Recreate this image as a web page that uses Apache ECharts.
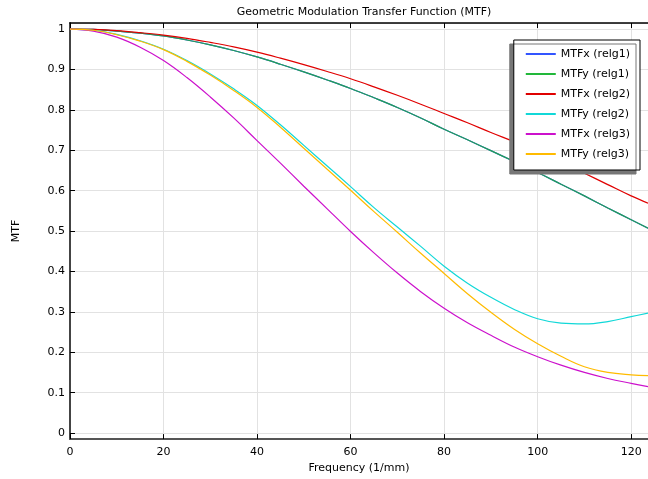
<!DOCTYPE html>
<html>
<head>
<meta charset="utf-8">
<script src="https://cdn.jsdelivr.net/npm/echarts@6/dist/echarts.min.js"></script>
<style>
  html, body { margin: 0; padding: 0; background: #fff; }
  #chart { width: 648px; height: 479px; }
</style>
</head>
<body>
<div id="chart"></div>
<script>
// frequency samples (1/mm)
var freq = [0, 5, 10, 15, 20, 25, 30, 35, 40, 45, 50, 55, 60, 65, 70, 75, 80, 85, 90, 95, 100, 105, 110, 115, 120, 123.6];

var mtfxRelg1 = [1, 0.999, 0.995, 0.990, 0.983, 0.973, 0.961, 0.947, 0.931, 0.913, 0.894, 0.874, 0.853, 0.830, 0.806, 0.780, 0.752, 0.726, 0.699, 0.672, 0.645, 0.616, 0.587, 0.557, 0.528, 0.507];
var mtfyRelg1 = [1, 0.999, 0.995, 0.990, 0.983, 0.973, 0.961, 0.947, 0.931, 0.913, 0.894, 0.874, 0.853, 0.830, 0.806, 0.780, 0.752, 0.726, 0.699, 0.672, 0.645, 0.616, 0.587, 0.557, 0.528, 0.507];
var mtfxRelg2 = [1, 0.999, 0.996, 0.991, 0.985, 0.977, 0.967, 0.956, 0.943, 0.928, 0.912, 0.895, 0.877, 0.857, 0.836, 0.814, 0.791, 0.768, 0.744, 0.721, 0.697, 0.670, 0.643, 0.615, 0.587, 0.569];
var mtfyRelg2 = [1, 0.997, 0.987, 0.971, 0.950, 0.922, 0.889, 0.852, 0.811, 0.763, 0.712, 0.661, 0.610, 0.558, 0.510, 0.462, 0.413, 0.371, 0.336, 0.306, 0.283, 0.272, 0.270, 0.276, 0.288, 0.297];
var mtfxRelg3 = [1, 0.995, 0.980, 0.955, 0.922, 0.880, 0.832, 0.780, 0.724, 0.668, 0.611, 0.555, 0.499, 0.446, 0.396, 0.350, 0.309, 0.273, 0.242, 0.213, 0.189, 0.168, 0.150, 0.135, 0.123, 0.115];
var mtfyRelg3 = [1, 0.997, 0.986, 0.970, 0.949, 0.920, 0.886, 0.848, 0.806, 0.757, 0.705, 0.653, 0.601, 0.548, 0.497, 0.445, 0.395, 0.345, 0.299, 0.257, 0.221, 0.190, 0.164, 0.150, 0.144, 0.142];

var seriesNames = ['MTFx (relg1)', 'MTFy (relg1)', 'MTFx (relg2)', 'MTFy (relg2)', 'MTFx (relg3)', 'MTFy (relg3)'];
var seriesData = [mtfxRelg1, mtfyRelg1, mtfxRelg2, mtfyRelg2, mtfxRelg3, mtfyRelg3];
var colors = ['#3355ff', '#22b83a', '#e00000', '#11d8d8', '#cc11cc', '#ffbb00'];
// the green curve sits on top of the blue one, which tints it in the plot
var lineColors = ['#3355ff', '#22a052', '#e00000', '#11d8d8', '#cc11cc', '#ffbb00'];

var fontFamily = 'DejaVu Sans';

function pairs(ys) {
  var out = [];
  for (var i = 0; i < freq.length; i++) {
    out.push([freq[i], ys[i]]);
  }
  return out;
}

var series = [];
for (var i = 0; i < seriesNames.length; i++) {
  series.push({
    name: seriesNames[i],
    type: 'line',
    xAxisIndex: 0,
    yAxisIndex: 0,
    smooth: 0.4,
    symbol: 'none',
    animation: false,
    color: lineColors[i],
    lineStyle: { width: 1.2, color: lineColors[i] },
    data: pairs(seriesData[i])
  });
}

// legend entries drawn as plain line segments
var legendData = [];
for (var j = 0; j < seriesNames.length; j++) {
  legendData.push({ name: seriesNames[j], icon: 'rect', itemStyle: { color: colors[j] } });
}

var mychart = echarts.init(document.getElementById('chart'));
var option = {
  backgroundColor: '#fff',
  animation: false,
  title: {
    text: 'Geometric Modulation Transfer Function (MTF)',
    left: 359,
    textAlign: 'center',
    top: 2,
    textStyle: { fontFamily: fontFamily, fontSize: 11, fontWeight: 'normal', color: '#000' }
  },
  legend: {
    orient: 'vertical',
    right: 8,
    top: 40,
    data: legendData,
    itemWidth: 30,
    itemHeight: 2,
    itemGap: 6,
    padding: [7, 10, 9, 12],
    borderColor: '#000',
    borderWidth: 1,
    backgroundColor: '#fff',
    shadowColor: '#777',
    shadowBlur: 0,
    shadowOffsetX: -4,
    shadowOffsetY: 4,
    textStyle: { fontFamily: fontFamily, fontSize: 11, color: '#000', lineHeight: 14 }
  },
  grid: { left: 70, right: 0, top: 23, bottom: 36, containLabel: false },
  xAxis: [{
    type: 'value',
    min: 0,
    max: 123.6,
    splitNumber: 6,
    name: 'Frequency (1/mm)',
    nameLocation: 'middle',
    nameGap: 18,
    nameTextStyle: { fontFamily: fontFamily, fontSize: 11, color: '#000' },
    axisLine: { show: true, onZero: false, lineStyle: { color: '#555', width: 2 } },
    axisTick: { show: true, inside: true, length: 5, lineStyle: { color: '#000' } },
    axisLabel: { fontFamily: fontFamily, fontSize: 11, color: '#000', margin: 8, showMaxLabel: false },
    splitLine: { show: true, lineStyle: { color: '#e2e2e2', width: 1 } }
  }, {
    type: 'value',
    position: 'top',
    min: 0,
    max: 123.6,
    splitNumber: 6,
    axisLine: { show: true, onZero: false, lineStyle: { color: '#000', width: 1.5 } },
    axisTick: { show: true, inside: true, length: 5, lineStyle: { color: '#000' } },
    axisLabel: { show: false },
    splitLine: { show: false }
  }],
  yAxis: {
    type: 'value',
    min: -0.015,
    max: 1.015,
    splitNumber: 10,
    name: 'MTF',
    nameLocation: 'middle',
    nameGap: 48,
    nameTextStyle: { fontFamily: fontFamily, fontSize: 11, color: '#000' },
    axisLine: { show: true, onZero: false, lineStyle: { color: '#444', width: 2 } },
    axisTick: { show: true, inside: true, length: 5, lineStyle: { color: '#000' } },
    axisLabel: {
      fontFamily: fontFamily, fontSize: 11, color: '#000', margin: 5,
      showMinLabel: false, showMaxLabel: false,
      formatter: function (v) { return String(Math.round(v * 10) / 10); }
    },
    splitLine: { show: true, lineStyle: { color: '#e2e2e2', width: 1 } }
  },
  series: series
};
mychart.setOption(option);
</script>
</body>
</html>
